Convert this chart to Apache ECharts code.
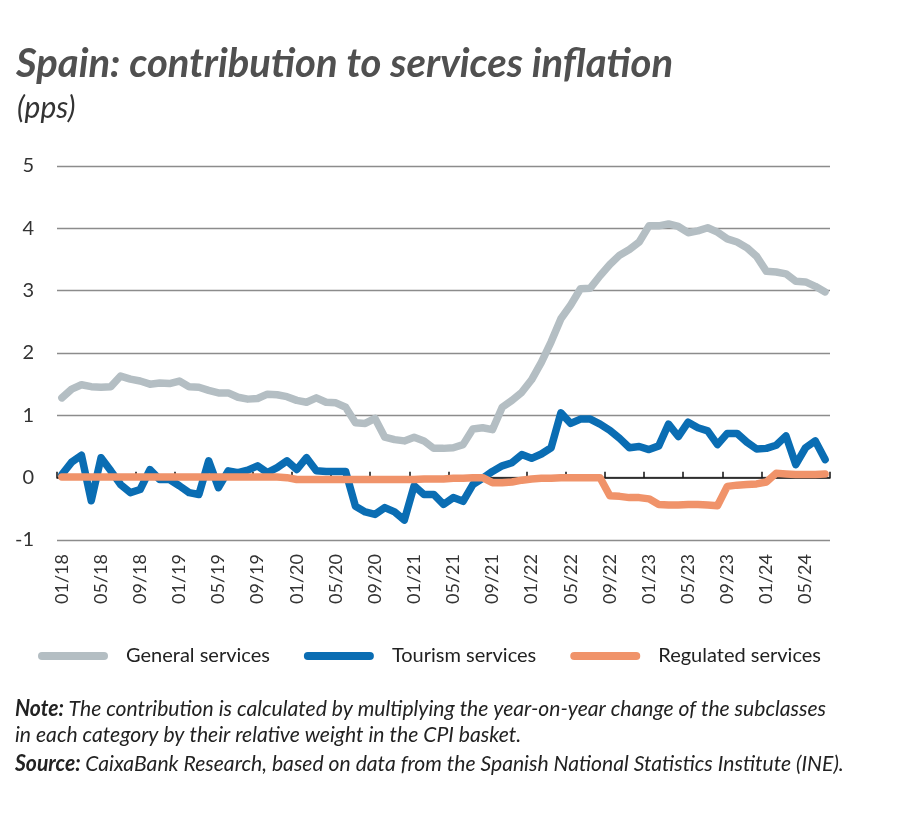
<!DOCTYPE html>
<html><head><meta charset="utf-8">
<script src="https://cdn.jsdelivr.net/npm/echarts@6/dist/echarts.min.js"></script>
<style>html,body{margin:0;padding:0;background:#fff}#c{width:900px;height:816px}</style>
</head><body><div id="c"></div>
<script>
const categories = [
'01/18','02/18','03/18','04/18','05/18','06/18','07/18','08/18','09/18','10/18','11/18','12/18',
'01/19','02/19','03/19','04/19','05/19','06/19','07/19','08/19','09/19','10/19','11/19','12/19',
'01/20','02/20','03/20','04/20','05/20','06/20','07/20','08/20','09/20','10/20','11/20','12/20',
'01/21','02/21','03/21','04/21','05/21','06/21','07/21','08/21','09/21','10/21','11/21','12/21',
'01/22','02/22','03/22','04/22','05/22','06/22','07/22','08/22','09/22','10/22','11/22','12/22',
'01/23','02/23','03/23','04/23','05/23','06/23','07/23','08/23','09/23','10/23','11/23','12/23',
'01/24','02/24','03/24','04/24','05/24','06/24','07/24'];
const generalServices = [
1.28,1.42,1.49,1.46,1.45,1.46,1.63,1.58,1.55,1.50,1.52,1.51,
1.55,1.46,1.45,1.40,1.36,1.36,1.29,1.26,1.27,1.34,1.33,1.30,
1.24,1.21,1.28,1.21,1.20,1.13,0.88,0.87,0.95,0.65,0.61,0.59,
0.65,0.59,0.47,0.47,0.48,0.53,0.78,0.80,0.77,1.13,1.24,1.37,
1.57,1.85,2.18,2.55,2.77,3.03,3.04,3.24,3.42,3.57,3.66,3.78,
4.04,4.04,4.07,4.03,3.93,3.96,4.01,3.94,3.83,3.78,3.69,3.55,
3.31,3.30,3.27,3.15,3.14,3.07,2.98];
const tourismServices = [
0.05,0.25,0.36,-0.37,0.32,0.11,-0.11,-0.24,-0.19,0.13,-0.03,-0.03,
-0.13,-0.24,-0.27,0.27,-0.16,0.11,0.08,0.12,0.19,0.08,0.16,0.27,
0.13,0.32,0.11,0.10,0.10,0.10,-0.46,-0.55,-0.59,-0.48,-0.55,-0.68,
-0.13,-0.27,-0.27,-0.43,-0.32,-0.38,-0.11,-0.01,0.10,0.19,0.24,0.37,
0.31,0.38,0.48,1.04,0.87,0.94,0.94,0.86,0.76,0.63,0.48,0.50,
0.45,0.51,0.86,0.66,0.89,0.80,0.75,0.53,0.71,0.71,0.57,0.46,
0.47,0.52,0.67,0.21,0.48,0.59,0.29];
const regulatedServices = [
0.01,0.01,0.01,0.01,0.01,0.01,0.01,0.01,0.01,0.01,0.01,0.01,
0.01,0.01,0.01,0.01,0.01,0.01,0.01,0.01,0.01,0.01,0.01,0.00,
-0.03,-0.03,-0.03,-0.03,-0.03,-0.03,-0.03,-0.03,-0.03,-0.03,-0.03,-0.03,
-0.03,-0.02,-0.02,-0.02,-0.01,-0.01,0.00,0.00,-0.08,-0.08,-0.07,-0.04,
-0.02,-0.01,-0.01,0.00,0.00,0.00,0.00,0.00,-0.29,-0.30,-0.32,-0.32,
-0.34,-0.43,-0.44,-0.44,-0.43,-0.43,-0.44,-0.45,-0.14,-0.12,-0.11,-0.10,
-0.07,0.07,0.06,0.05,0.05,0.05,0.06];
const yMin = -1, yMax = 5, yStep = 1;
const seriesNames = ['General services','Tourism services','Regulated services'];
const seriesColors = ['#b4bec3','#0a6db3','#f0936a'];
const noteLines = [
  ['Note:', 'The contribution is calculated by multiplying the year-on-year change of the subclasses'],
  ['', 'in each category by their relative weight in the CPI basket.'],
  ['Source:', 'CaixaBank Research, based on data from the Spanish National Statistics Institute (INE).']
];

const FONT = 'Lato';
const NOTE_SIZE = 22;
// condense the note text to the width of the reference's first line
const mctx = document.createElement('canvas').getContext('2d');
function tw(font, s){ mctx.font = font; return mctx.measureText(s).width; }
const l1 = tw('italic bold '+NOTE_SIZE+'px '+FONT, noteLines[0][0]+' ') + tw('italic '+NOTE_SIZE+'px '+FONT, noteLines[0][1]);
const noteScale = 811 / l1;
const noteY = [698, 724, 753];
const noteGraphics = noteLines.map((ln, k) => ({
  type:'text', x:15, y:noteY[k], scaleX:noteScale, silent:true,
  style:{
    text: (ln[0] ? '{b|'+ln[0]+' }' : '') + '{i|'+ln[1]+'}',
    verticalAlign:'top',
    rich:{
      b:{fontFamily:FONT, fontSize:NOTE_SIZE, fontWeight:'bold', fontStyle:'italic', fill:'#222'},
      i:{fontFamily:FONT, fontSize:NOTE_SIZE, fontWeight:'normal', fontStyle:'italic', fill:'#222'}
    }
  }
}));

const chart = echarts.init(document.getElementById('c'), null, {renderer:'canvas'});
const icon = 'path://M4,0 L66,0 A4,4 0 0 1 66,8 L4,8 A4,4 0 0 1 4,0 Z';
const mk = (name, data, color) => ({
  name, type:'line', data, xAxisIndex:0, yAxisIndex:0, symbol:'none', color,
  lineStyle:{width:7.5, color, cap:'round', join:'round'}, emphasis:{disabled:true}, animation:false
});
chart.setOption({
  animation:false,
  title:[
    {text:'Spain: contribution to services inflation', left:11, top:39,
     textStyle:{fontFamily:FONT, fontSize:40, fontWeight:'bold', fontStyle:'italic', color:'#505050'}},
    {text:'(pps)', left:12, top:88, textStyle:{fontFamily:FONT, fontSize:30, fontWeight:'normal', fontStyle:'italic', color:'#333'}}
  ],
  graphic: noteGraphics,
  legend:{
    data: seriesNames.map(n=>({name:n, icon})),
    left:33, top:641, itemWidth:70, itemHeight:8, itemGap:34,
    selectedMode:false,
    textStyle:{fontFamily:FONT, fontSize:20, color:'#222', padding:[0,0,0,13]}
  },
  grid:{left:57, right:70, top:166, bottom:276, containLabel:false, outerBoundsMode:'none'},
  xAxis:[
    {type:'category', data:categories, boundaryGap:true, position:'bottom',
     axisLine:{show:false, onZero:false}, axisTick:{show:false},
     axisLabel:{interval:3, rotate:90, margin:14, fontFamily:FONT, fontSize:18, color:'#333'},
     splitLine:{show:false}},
    {type:'category', data:categories, boundaryGap:true, position:'bottom',
     axisLine:{show:true, onZero:true, lineStyle:{color:'#111', width:1.5}},
     axisTick:{show:true, inside:true, length:6, interval:3, lineStyle:{color:'#111', width:1.5}},
     axisLabel:{show:false}, splitLine:{show:false}}
  ],
  yAxis:{type:'value', min:yMin, max:yMax, interval:yStep,
    axisLine:{show:false}, axisTick:{show:false},
    axisLabel:{margin:23, fontFamily:FONT, fontSize:20, color:'#333'},
    splitLine:{lineStyle:{color:'#8c8c8c', width:1.3}}},
  series:[
    mk(seriesNames[0], generalServices, seriesColors[0]),
    mk(seriesNames[1], tourismServices, seriesColors[1]),
    mk(seriesNames[2], regulatedServices, seriesColors[2])
  ]
});
</script></body></html>
